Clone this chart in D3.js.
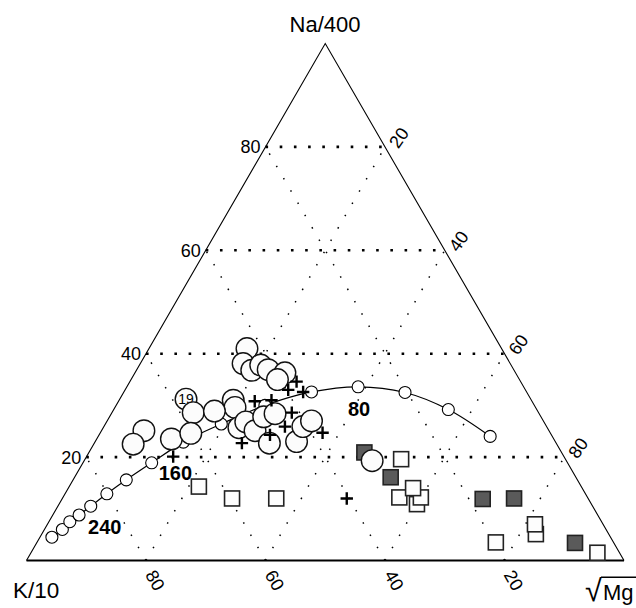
<!DOCTYPE html>
<html>
<head>
<meta charset="utf-8">
<script src="https://cdn.jsdelivr.net/npm/d3@7"></script>
<style>
  body { margin: 0; background: #fff; }
  svg { display: block; font-family: "Liberation Sans", Arial, sans-serif; }
</style>
</head>
<body>
<svg id="chart" width="636" height="608"></svg>
<script>
// Na/400 – K/10 – √Mg ternary diagram with the full-equilibrium curve.
// Every composition is given in percent as [Na, K, Mg].

const gridTicks = [20, 40, 60, 80];

// Full-equilibrium line, one point every 20 °C
const eqTemps = [320, 300, 280, 260, 240, 220, 200, 180, 160, 140, 120, 100, 80, 60, 40, 20];
const eqPoints = [
  [4.5, 93.5, 2.0], [6.0, 91.0, 3.0], [7.5, 89.0, 3.5], [8.8, 86.8, 4.4],
  [10.5, 84.0, 5.5], [12.9, 80.1, 7.0], [15.6, 75.5, 8.9], [18.9, 69.6, 11.5],
  [22.9, 62.3, 14.8], [26.4, 54.2, 19.4], [30.0, 45.1, 24.9], [32.6, 36.0, 31.4],
  [33.6, 27.7, 38.7], [32.5, 20.4, 47.1], [29.2, 14.8, 56.0], [24.0, 10.4, 65.6]
];
const labelledTemps = [240, 160, 80];

// Spring waters, open circles
const circleSamples = [
  [41.0, 42.6, 16.4], [38.1, 44.7, 17.2], [36.8, 43.9, 19.3], [37.8, 41.9, 20.3],
  [36.9, 41.1, 22.0], [36.3, 38.6, 25.1], [35.0, 40.5, 24.5],
  [31.2, 57.7, 11.1], [31.0, 49.9, 19.1], [29.6, 50.3, 20.1], [28.6, 57.8, 13.6],
  [28.9, 54.1, 17.0], [25.1, 67.8, 7.1], [22.5, 70.9, 6.6], [23.5, 64.0, 12.5],
  [24.6, 60.2, 15.2], [25.7, 51.6, 22.7], [26.8, 49.9, 23.3], [25.1, 49.2, 25.7],
  [27.8, 46.4, 25.8], [28.4, 44.2, 27.4], [22.7, 48.0, 29.3], [23.0, 43.3, 33.7],
  [25.9, 40.8, 33.3], [27.0, 38.8, 34.2], [19.3, 32.5, 48.2]
];
const circleNames = ["", "", "", "", "", "", "", "19", "", "", "", "", "", "", "", "", "", "", "", "", "", "", "", "", "", ""];

// Well waters, crosses
const plusSamples = [
  [34.6, 37.5, 27.9], [33.0, 39.7, 27.3], [32.6, 37.4, 30.0], [30.8, 46.4, 22.8],
  [31.0, 43.5, 25.5], [28.6, 41.3, 30.1], [25.9, 43.8, 30.3], [24.3, 47.1, 28.6],
  [22.7, 52.6, 24.7], [24.7, 38.1, 37.2], [20.1, 65.4, 14.5], [12.0, 40.4, 47.6]
];

// Cold waters, open squares
const openSquareSamples = [
  [10.9, 29.2, 59.9], [12.2, 27.9, 59.9], [12.2, 31.5, 56.3], [14.0, 28.3, 57.7],
  [14.3, 64.0, 21.7], [12.0, 59.6, 28.4], [12.0, 52.2, 35.8], [19.6, 27.5, 52.9],
  [5.1, 12.2, 82.7], [7.0, 11.4, 81.6], [3.5, 19.7, 76.8], [1.5, 3.7, 94.8]
];

// Shallow groundwaters, filled squares
const filledSquareSamples = [
  [20.9, 33.0, 46.1], [16.1, 31.0, 52.9], [11.9, 17.7, 70.4],
  [12.0, 12.4, 75.6], [3.4, 6.5, 90.1]
];

const svg = d3.select("#chart");

// Horizontal position follows Mg + Na/2, vertical position follows Na.
const x = d3.scaleLinear().domain([0, 100]).range([26.5, 624]);
const y = d3.scaleLinear().domain([0, 100]).range([560.5, 43.5]);

function project(c) {
  const s = c[0] + c[1] + c[2];
  const na = c[0] / s * 100, mg = c[2] / s * 100;
  return [x(mg + na / 2), y(na)];
}

// ---- dotted grid ----
const grid = svg.append("g");
gridTicks.forEach(v => {
  const a = project([v, 100 - v, 0]), b = project([v, 0, 100 - v]);
  grid.append("line")
    .attr("x1", a[0]).attr("y1", a[1]).attr("x2", b[0]).attr("y2", b[1])
    .attr("stroke", "#000").attr("stroke-width", 2.6)
    .attr("stroke-dasharray", "2.6 11.6");
});
gridTicks.forEach(v => {
  // constant K, from the base up to the left side
  let a = project([0, v, 100 - v]), b = project([100 - v, v, 0]);
  grid.append("line")
    .attr("x1", a[0]).attr("y1", a[1]).attr("x2", b[0]).attr("y2", b[1])
    .attr("stroke", "#000").attr("stroke-width", 1.5)
    .attr("stroke-dasharray", "1.5 12.7");
  // constant Mg, from the base up to the right side
  a = project([0, 100 - v, v]); b = project([100 - v, 0, v]);
  grid.append("line")
    .attr("x1", a[0]).attr("y1", a[1]).attr("x2", b[0]).attr("y2", b[1])
    .attr("stroke", "#000").attr("stroke-width", 1.5)
    .attr("stroke-dasharray", "1.5 12.7");
});

// ---- triangle frame ----
const apexPt = project([100, 0, 0]), kPt = project([0, 100, 0]), mgPt = project([0, 0, 100]);
svg.append("path")
  .attr("d", `M${kPt[0]},${kPt[1]}L${apexPt[0]},${apexPt[1]}L${mgPt[0]},${mgPt[1]}`)
  .attr("fill", "none").attr("stroke", "#000").attr("stroke-width", 1.1);
svg.append("line")
  .attr("x1", kPt[0]).attr("y1", kPt[1]).attr("x2", mgPt[0]).attr("y2", mgPt[1])
  .attr("stroke", "#000").attr("stroke-width", 2.2);

// ---- tick labels ----
const tickFont = 18;
gridTicks.forEach(v => {
  const p = project([v, 100 - v, 0]);
  svg.append("text").attr("x", p[0] - 5).attr("y", p[1] + 6.5)
    .attr("text-anchor", "end").attr("font-size", tickFont).text(v);
  const q = project([100 - v, 0, v]);
  svg.append("text")
    .attr("transform", `translate(${q[0] + 14},${q[1] - 9}) rotate(-55)`)
    .attr("text-anchor", "middle").attr("dominant-baseline", "central")
    .attr("font-size", tickFont).text(v);
  const r = project([0, v, 100 - v]);
  svg.append("text")
    .attr("transform", `translate(${r[0] + 9},${r[1] + 20}) rotate(60)`)
    .attr("text-anchor", "middle").attr("dominant-baseline", "central")
    .attr("font-size", tickFont).text(v);
});

// ---- corner labels ----
svg.append("text").attr("x", 325).attr("y", 32).attr("text-anchor", "middle")
  .attr("font-size", 22).text("Na/400");
svg.append("text").attr("x", 13).attr("y", 598).attr("font-size", 22.5).text("K/10");

// √Mg: the radical's size is chosen from its measured ink height,
// and the vinculum starts at its top right corner
const mgLabel = svg.append("g");
const ctx = document.createElement("canvas").getContext("2d");
const inkOf = fs => {
  ctx.font = `${fs}px "Liberation Sans", Arial, sans-serif`;
  return ctx.measureText("√");
};
const m0 = inkOf(20);
const radFont = Math.min(32, 20 * 26 / Math.max(1, m0.actualBoundingBoxAscent + m0.actualBoundingBoxDescent));
const m = inkOf(radFont);
const radBase = Math.min(600.5, 603 - m.actualBoundingBoxDescent);
const radLeft = 585 + m.actualBoundingBoxLeft;
const radTop = radBase - m.actualBoundingBoxAscent;
const radRight = radLeft + m.actualBoundingBoxRight;
mgLabel.append("text").attr("x", radLeft).attr("y", radBase)
  .attr("font-size", radFont).text("√");
mgLabel.append("line").attr("x1", radRight - 1).attr("y1", radTop + 0.8)
  .attr("x2", 636).attr("y2", radTop + 0.8)
  .attr("stroke", "#000").attr("stroke-width", 1.6);
mgLabel.append("text").attr("x", Math.max(600, radRight + 1)).attr("y", 600)
  .attr("font-size", 22).text("Mg");

// ---- squares ----
const sq = 15;
svg.append("g").selectAll("rect").data(openSquareSamples).join("rect")
  .attr("x", d => project(d)[0] - sq / 2).attr("y", d => project(d)[1] - sq / 2)
  .attr("width", sq).attr("height", sq)
  .attr("fill", "#fdfdfd").attr("stroke", "#222").attr("stroke-width", 1.6);
svg.append("g").selectAll("rect").data(filledSquareSamples).join("rect")
  .attr("x", d => project(d)[0] - sq / 2).attr("y", d => project(d)[1] - sq / 2)
  .attr("width", sq).attr("height", sq)
  .attr("fill", "#5a5a5a").attr("stroke", "#222").attr("stroke-width", 1.6);

// ---- full-equilibrium curve ----
const eqLine = d3.line().x(d => project(d)[0]).y(d => project(d)[1]).curve(d3.curveCatmullRom);
svg.append("path").datum(eqPoints).attr("d", eqLine)
  .attr("fill", "none").attr("stroke", "#000").attr("stroke-width", 1.2);
svg.append("g").selectAll("circle").data(eqPoints).join("circle")
  .attr("cx", d => project(d)[0]).attr("cy", d => project(d)[1]).attr("r", 6)
  .attr("fill", "#fff").attr("stroke", "#000").attr("stroke-width", 1.1);
const tempOffset = { 240: [14, 21], 160: [-8, 31], 80: [1, 22] };
labelledTemps.forEach(t => {
  const p = project(eqPoints[eqTemps.indexOf(t)]);
  svg.append("text").attr("x", p[0] + tempOffset[t][0]).attr("y", p[1] + tempOffset[t][1])
    .attr("text-anchor", "middle").attr("dominant-baseline", "central")
    .attr("font-size", 20).attr("font-weight", "bold").text(t);
});

// ---- springs ----
const springs = svg.append("g").selectAll("g").data(circleSamples).join("g")
  .attr("transform", d => `translate(${project(d)[0]},${project(d)[1]})`);
springs.append("circle").attr("r", 10.8)
  .attr("fill", "#fcfcfc").attr("stroke", "#111").attr("stroke-width", 1.4);
springs.append("text").text((d, i) => circleNames[i])
  .attr("text-anchor", "middle").attr("dominant-baseline", "central")
  .attr("font-size", 14);

// ---- wells ----
const ps = 6.2;
svg.append("g").selectAll("path").data(plusSamples).join("path")
  .attr("d", d => {
    const [px, py] = project(d);
    return `M${px - ps},${py}H${px + ps}M${px},${py - ps}V${py + ps}`;
  })
  .attr("stroke", "#000").attr("stroke-width", 2.4).attr("fill", "none");
</script>
</body>
</html>
